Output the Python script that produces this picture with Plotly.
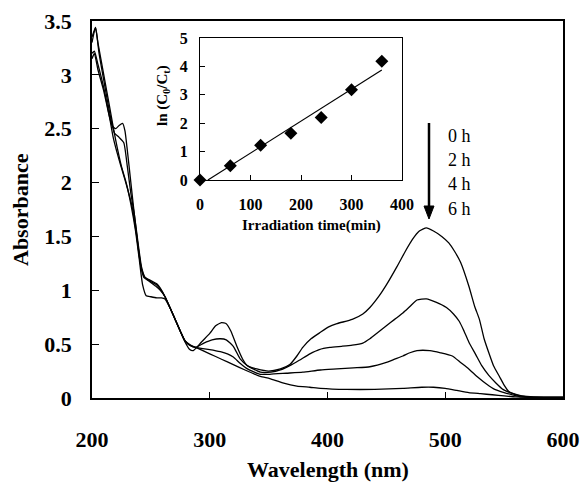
import numpy as np
import plotly.graph_objects as go

# ---------------- data ----------------
wl_0h = [200, 202, 205, 210, 214, 217, 220, 223, 226, 228, 230, 233, 236, 239, 242, 245, 250, 255, 258, 262,
         267, 271, 275, 279, 283, 286, 289, 293, 300, 305, 310, 314, 318, 323, 328, 332, 340, 350, 360, 368,
         374, 379, 386, 394, 401, 408, 421, 430, 436, 444, 450, 459, 466, 472, 478, 484, 490, 497, 503, 508,
         513, 520, 525, 529, 533, 537, 541, 546, 550, 554, 558, 565, 575, 600]
abs_0h = [3.15, 3.2, 3.05, 2.85, 2.65, 2.53, 2.5, 2.53, 2.55, 2.48, 2.3, 2.0, 1.7, 1.42, 1.2, 1.12, 1.09, 1.06, 1.02, 0.94,
          0.82, 0.72, 0.62, 0.52, 0.45, 0.44, 0.47, 0.52, 0.6, 0.67, 0.70, 0.69, 0.62, 0.48, 0.36, 0.30, 0.27, 0.25, 0.27, 0.31,
          0.39, 0.47, 0.55, 0.61, 0.66, 0.69, 0.73, 0.78, 0.84, 0.95, 1.05, 1.22, 1.36, 1.47, 1.55, 1.58, 1.55, 1.50, 1.44, 1.36,
          1.26, 1.04, 0.85, 0.73, 0.55, 0.42, 0.30, 0.20, 0.12, 0.06, 0.04, 0.02, 0.01, 0.01]

wl_2h = [200, 203, 206, 210, 215, 219, 223, 227, 230, 233, 236, 239, 242, 245, 250, 255, 258, 262, 267, 271,
         275, 279, 283, 288, 295, 302, 309, 314, 320, 326, 332, 343, 352, 360, 368, 376, 385, 393, 402, 412,
         421, 430, 436, 443, 450, 457, 464, 470, 476, 484, 492, 501, 507, 512, 516, 520, 526, 531, 537, 543,
         549, 555, 560, 570, 600]
abs_2h = [3.3, 3.44, 3.2, 2.95, 2.65, 2.46, 2.42, 2.37, 2.15, 1.9, 1.7, 1.45, 1.22, 1.12, 1.08, 1.05, 1.01, 0.94, 0.82, 0.72,
          0.62, 0.53, 0.49, 0.47, 0.51, 0.54, 0.55, 0.54, 0.48, 0.36, 0.30, 0.24, 0.24, 0.26, 0.30, 0.35, 0.41, 0.45, 0.47, 0.48,
          0.49, 0.51, 0.55, 0.61, 0.67, 0.73, 0.79, 0.85, 0.91, 0.92, 0.89, 0.84, 0.78, 0.71, 0.62, 0.52, 0.40, 0.30, 0.21, 0.14,
          0.08, 0.05, 0.03, 0.01, 0.0]

wl_4h = [200, 202, 205, 210, 215, 218, 222, 226, 230, 234, 238, 241, 244, 249, 254, 258, 262, 267, 271, 275,
         279, 283, 288, 300, 309, 315, 320, 326, 332, 343, 351, 365, 379, 394, 408, 422, 436, 450, 457, 464,
         470, 476, 487, 496, 506, 513, 520, 528, 535, 542, 550, 557, 565, 600]
abs_4h = [3.2, 3.22, 3.1, 2.88, 2.6, 2.42, 2.25, 2.1, 1.95, 1.78, 1.5, 1.25, 1.12, 1.08, 1.04, 1.0, 0.94, 0.82, 0.72, 0.62,
          0.53, 0.49, 0.47, 0.45, 0.43, 0.41, 0.38, 0.32, 0.27, 0.22, 0.22, 0.23, 0.24, 0.26, 0.27, 0.28, 0.29, 0.33, 0.36, 0.39,
          0.42, 0.44, 0.44, 0.42, 0.39, 0.33, 0.27, 0.19, 0.13, 0.08, 0.05, 0.03, 0.01, 0.0]

wl_6h = [200, 203, 205, 210, 215, 220, 225, 229, 233, 237, 240, 243, 246, 250, 255, 259, 262, 267, 271, 275,
         279, 284, 290, 300, 310, 320, 330, 343, 351, 362, 374, 385, 394, 416, 440, 464, 480, 490, 500, 510,
         520, 530, 540, 550, 560, 600]
abs_6h = [3.35, 3.44, 3.3, 3.0, 2.7, 2.4, 2.15, 2.0, 1.8, 1.55, 1.3, 1.05, 0.95, 0.94, 0.93, 0.93, 0.92, 0.82, 0.72, 0.62,
          0.53, 0.49, 0.46, 0.41, 0.36, 0.31, 0.26, 0.20, 0.18, 0.14, 0.11, 0.10, 0.09, 0.08, 0.08, 0.09, 0.10, 0.10, 0.09, 0.07,
          0.05, 0.04, 0.03, 0.02, 0.01, 0.0]

time_min = [0, 60, 120, 180, 240, 300, 360]
ln_c0_ct = [0.0, 0.5, 1.22, 1.65, 2.2, 3.18, 4.18]

legend_labels = ["0 h", "2 h", "4 h", "6 h"]

main_xticks = [200, 300, 400, 500, 600]
main_yticks = [0, 0.5, 1, 1.5, 2, 2.5, 3, 3.5]
main_yticktext = ["0", "0.5", "1", "1.5", "2", "2.5", "3", "3.5"]
inset_xticks = [0, 100, 200, 300, 400]
inset_yticks = [0, 1, 2, 3, 4, 5]

# ---------------- layout helpers ----------------
W, H = 581, 483
L, R, T, B = 92, 563, 21, 398   # plot area in px


def px_x(p):
    return (p - L) / (R - L)


def px_y(p):
    return (B - p) / (B - T)


SERIF = "Liberation Serif, Times New Roman, serif"
BOLD22 = dict(family=SERIF, size=22, color="black", weight="bold")
BOLD15 = dict(family=SERIF, size=15, color="black", weight="bold")
BOLD16 = dict(family=SERIF, size=16, color="black", weight="bold")

fig = go.Figure()

for wl, ab in [(wl_0h, abs_0h), (wl_2h, abs_2h), (wl_4h, abs_4h), (wl_6h, abs_6h)]:
    fig.add_trace(go.Scatter(x=wl, y=ab, mode="lines",
                             line=dict(color="black", width=1.3, shape="spline", smoothing=0.5),
                             xaxis="x", yaxis="y", showlegend=False, hoverinfo="skip"))

# inset: points and linear fit
slope, intercept = np.polyfit(time_min, ln_c0_ct, 1)
fit_x = np.array([-intercept / slope, max(time_min)])
fit_y = slope * fit_x + intercept
fig.add_trace(go.Scatter(x=fit_x, y=fit_y, mode="lines", line=dict(color="black", width=1.2),
                         xaxis="x2", yaxis="y2", showlegend=False, hoverinfo="skip"))
fig.add_trace(go.Scatter(x=time_min, y=ln_c0_ct, mode="markers",
                         marker=dict(symbol="diamond", size=10, color="black"),
                         xaxis="x2", yaxis="y2", showlegend=False, hoverinfo="skip", cliponaxis=False))

axis_common = dict(showgrid=False, zeroline=False, showline=True, linecolor="black",
                   mirror=True, ticks="inside", tickcolor="black", automargin=False)

annotations = [
    dict(text="Wavelength (nm)", x=px_x(328), y=px_y(470), xref="paper", yref="paper",
         showarrow=False, font=BOLD22, xanchor="center", yanchor="middle"),
    dict(text="Absorbance", x=px_x(20), y=px_y(210), xref="paper", yref="paper",
         showarrow=False, font=BOLD22, textangle=-90, xanchor="center", yanchor="middle"),
    dict(text="Irradiation time(min)", x=px_x(311), y=px_y(226), xref="paper", yref="paper",
         showarrow=False, font=BOLD15, xanchor="center", yanchor="middle"),
    dict(text="ln (C<sub>0</sub>/C<sub>t</sub>)", x=px_x(163), y=px_y(96), xref="paper", yref="paper",
         showarrow=False, font=BOLD15, textangle=-90, xanchor="center", yanchor="middle"),
]
for lab, yy in zip(legend_labels, [136, 160, 184, 209]):
    annotations.append(dict(text=lab, x=px_x(446), y=px_y(yy), xref="paper", yref="paper",
                            showarrow=False, xanchor="left", yanchor="middle",
                            font=dict(family=SERIF, size=18, color="black")))

# downward arrow next to the time labels (shaft + filled head)
ax_px, top_px, head_top_px, tip_px, half_w = 429, 123, 206, 219, 5
shapes = [
    dict(type="line", xref="paper", yref="paper",
         x0=px_x(ax_px), x1=px_x(ax_px), y0=px_y(top_px), y1=px_y(head_top_px + 1),
         line=dict(color="black", width=2.5)),
    dict(type="path", xref="paper", yref="paper",
         path=f"M {px_x(ax_px - half_w)} {px_y(head_top_px)} L {px_x(ax_px + half_w)} {px_y(head_top_px)} "
              f"L {px_x(ax_px)} {px_y(tip_px)} Z",
         fillcolor="black", line=dict(color="black", width=1)),
]

fig.update_layout(
    width=W, height=H,
    margin=dict(l=L, r=W - R, t=T, b=H - B, pad=0, autoexpand=False),
    paper_bgcolor="white", plot_bgcolor="white", showlegend=False,
    xaxis=dict(range=[200, 600], tickvals=main_xticks, ticklen=6, tickwidth=1, linewidth=1.5,
               tickfont=BOLD22, ticklabelstandoff=21, domain=[0, 1], anchor="y", **axis_common),
    yaxis=dict(range=[0, 3.5], tickvals=main_yticks, ticktext=main_yticktext, ticklen=7, tickwidth=1,
               linewidth=1.5, tickfont=BOLD22, ticklabelstandoff=14, domain=[0, 1], anchor="x",
               **axis_common),
    xaxis2=dict(range=[0, 400], tickvals=inset_xticks, ticklen=5, tickwidth=1, linewidth=1.3,
                tickfont=BOLD16, ticklabelstandoff=10,
                domain=[px_x(200), px_x(402)], anchor="y2", **axis_common),
    yaxis2=dict(range=[0, 5], tickvals=inset_yticks, ticklen=5, tickwidth=1, linewidth=1.3,
                tickfont=BOLD16, ticklabelstandoff=8,
                domain=[px_y(180), px_y(38)], anchor="x2", **axis_common),
    annotations=annotations,
    shapes=shapes,
)

fig.write_html("out.html")
